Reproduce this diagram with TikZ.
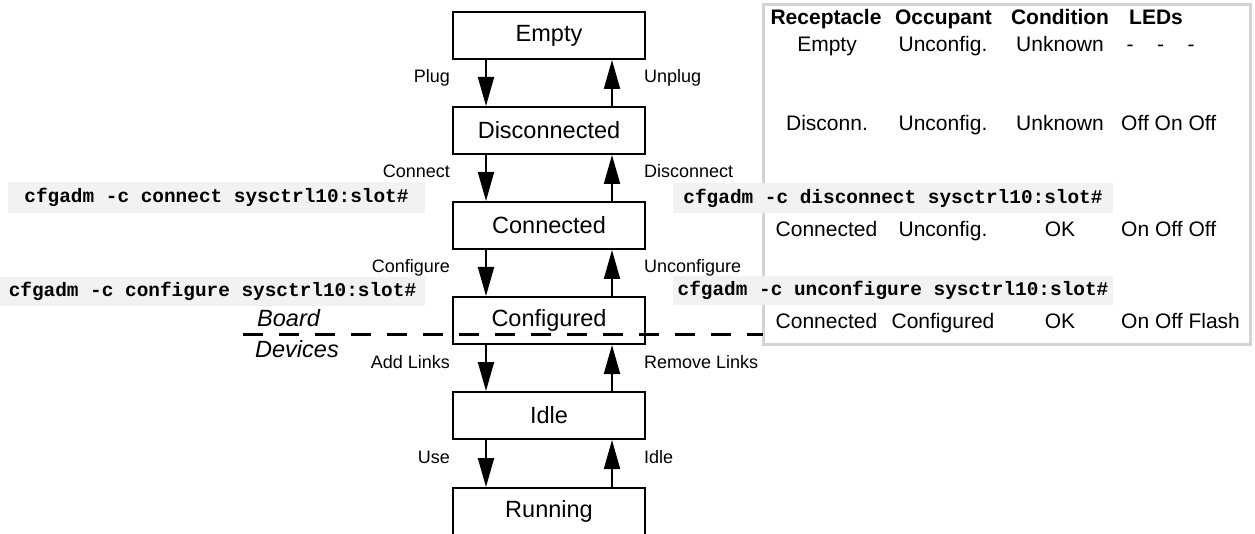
\documentclass[tikz,border=0pt]{standalone}
\usepackage{fontspec}
\setmainfont{Liberation Sans}
\newfontfamily\cmdfont{Liberation Mono}
\usetikzlibrary{arrows.meta}
\definecolor{cmdgray}{RGB}{242,242,242}
\definecolor{tablegray}{RGB}{212,212,212}
\begin{document}
\begin{tikzpicture}[x=1pt,y=-1pt,
  state/.style={draw, line width=2pt, fill=white, minimum width=192pt,
    minimum height=47pt, inner sep=0pt, font=\fontsize{23.5}{28}\selectfont},
  trans/.style={line width=2pt, -{Triangle[length=29pt,width=16pt]}},
  lbl/.style={inner sep=0pt, font=\fontsize{18}{22}\selectfont},
  lbll/.style={lbl, anchor=base east},
  lblr/.style={lbl, anchor=base west},
  cmd/.style={fill=cmdgray, inner sep=0pt,
    font=\cmdfont\bfseries\fontsize{19.4}{22}\selectfont},
  cell/.style={inner sep=0pt, anchor=base, font=\fontsize{21}{25}\selectfont},
  ledcell/.style={cell, anchor=base west},
  head/.style={cell, font=\bfseries\fontsize{21}{25}\selectfont},
  side/.style={inner sep=0pt, anchor=base west,
    font=\itshape\fontsize{23.5}{28}\selectfont},
]
\useasboundingbox (0,0) rectangle (1255,534);

% status table frame
\node[draw=tablegray, line width=3pt, minimum width=487pt, minimum height=340pt,
  inner sep=0pt, outer sep=0pt] (table) at (1006.5,175) {};

% state boxes
\node[state] (empty)  at (549,35.5)  {Empty};
\node[state] (disc)   at (549,130.5) {Disconnected};
\node[state] (conn)   at (549,225.5) {Connected};
\node[state] (conf)   at (549,320.5) {Configured};
\node[state] (idle)   at (549,415.5) {Idle};
\node[state] (run)    at (549,511.5) {Running};

% transitions: down on the left, up on the right
\foreach \a/\b in {empty/disc, disc/conn, conn/conf, conf/idle, idle/run}{
  \draw[trans] ([xshift=34]\a.south west) -- ([xshift=34]\b.north west);
  \draw[trans] ([xshift=-34]\b.north east) -- ([xshift=-34]\a.south east);
}

% transition labels
\node[lbll] (lplug)   at (450,83)  {Plug};
\node[lblr] (lunplug) at (644,83)  {Unplug};
\node[lbll] (lconn)   at (450,178) {Connect};
\node[lblr] (ldisc)   at (644,178) {Disconnect};
\node[lbll] (lconf)   at (450,273) {Configure};
\node[lblr] (lunconf) at (644,273) {Unconfigure};
\node[lbll] (ladd)    at (450,368) {Add Links};
\node[lblr] (lrem)    at (644,368) {Remove Links};
\node[lbll] (luse)    at (450,463) {Use};
\node[lblr] (lidle)   at (644,463) {Idle};

% commands
\node[cmd, minimum width=417pt, minimum height=31pt] (cmdconn) at (216.5,197.5)
  {cfgadm -c connect sysctrl10:slot\#};
\node[cmd, minimum width=425pt, minimum height=29pt] (cmdconf) at (212.5,291.5)
  {cfgadm -c configure sysctrl10:slot\#};
\node[cmd, minimum width=440pt, minimum height=30pt] (cmddisc) at (893,198)
  {cfgadm -c disconnect sysctrl10:slot\#};
\node[cmd, minimum width=440pt, minimum height=29pt] (cmdunconf) at (893,290.5)
  {cfgadm -c unconfigure sysctrl10:slot\#};

% table header
\node[head] (h1) at (826,25) {Receptacle};
\node[head] (h2) at (943.5,25) {Occupant};
\node[head] (h3) at (1060,25) {Condition};
\node[head, anchor=base west] (h4) at (1129,25) {LEDs};

% table rows
\node[cell] (r1a) at (827,52) {Empty};
\node[cell] (r1b) at (943,52) {Unconfig.};
\node[cell] (r1c) at (1060,52) {Unknown};
\node[ledcell] (r1d) at (1126.5,52) {-\hspace{23.5pt}-\hspace{23.5pt}-};

\node[cell] (r2a) at (827,131) {Disconn.};
\node[cell] (r2b) at (943,131) {Unconfig.};
\node[cell] (r2c) at (1060,131) {Unknown};
\node[ledcell] (r2d) at (1121,131) {Off On Off};

\node[cell] (r3a) at (826.5,237) {Connected};
\node[cell] (r3b) at (943,237) {Unconfig.};
\node[cell] (r3c) at (1060,237) {OK};
\node[ledcell] (r3d) at (1121,237) {On Off Off};

\node[cell] (r4a) at (826.5,329) {Connected};
\node[cell] (r4b) at (943,329) {Configured};
\node[cell] (r4c) at (1060,329) {OK};
\node[ledcell] (r4d) at (1121,329) {On Off Flash};

% board / devices boundary
\coordinate (bndL) at (243,335);
\draw[line width=3pt, dash pattern=on 20pt off 16pt] (bndL) -- (bndL -| table.west);
\node[side] (board) at (257,326.5) {Board};
\node[side] (devs)  at (255,358) {Devices};
\end{tikzpicture}
\end{document}
